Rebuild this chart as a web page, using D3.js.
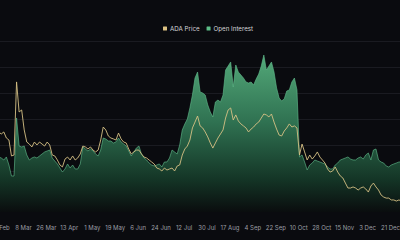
<!DOCTYPE html>
<html>
<head>
<meta charset="utf-8">
<script src="https://cdn.jsdelivr.net/npm/d3@7"></script>
<style>
    html, body { margin: 0; padding: 0; background: #0a0b0f; }
    svg { display: block; }
</style>
</head>
<body>
<svg width="400" height="240"></svg>
<script>
// ADA price vs open interest, one value every 2 days from 17 Feb 2025
var startDay = "2025-02-17";
var stepDays = 2;

var adaPrice = [
    0.780, 0.767, 0.780, 0.741, 0.728, 0.625, 0.631, 1.103, 0.909, 0.922,
    0.793, 0.715, 0.702, 0.683, 0.715, 0.696, 0.715, 0.702, 0.689, 0.715,
    0.696, 0.631, 0.625, 0.599, 0.567, 0.554, 0.605, 0.618, 0.599, 0.625,
    0.599, 0.612, 0.638, 0.689, 0.683, 0.670, 0.683, 0.663, 0.651, 0.663,
    0.728, 0.812, 0.793, 0.754, 0.741, 0.735, 0.728, 0.773, 0.735, 0.715,
    0.709, 0.670, 0.638, 0.651, 0.663, 0.663, 0.638, 0.618, 0.612, 0.599,
    0.586, 0.573, 0.547, 0.541, 0.528, 0.547, 0.534, 0.541, 0.547, 0.528,
    0.560, 0.567, 0.631, 0.670, 0.689, 0.728, 0.806, 0.844, 0.883, 0.819,
    0.806, 0.780, 0.748, 0.709, 0.676, 0.709, 0.741, 0.767, 0.793, 0.870,
    0.922, 0.935, 0.857, 0.890, 0.851, 0.832, 0.819, 0.806, 0.780, 0.799,
    0.812, 0.832, 0.844, 0.870, 0.896, 0.890, 0.877, 0.896, 0.844, 0.799,
    0.760, 0.754, 0.786, 0.806, 0.832, 0.812, 0.819, 0.806, 0.631, 0.702,
    0.651, 0.599, 0.631, 0.605, 0.625, 0.651, 0.618, 0.599, 0.579, 0.541,
    0.521, 0.528, 0.554, 0.521, 0.496, 0.483, 0.450, 0.418, 0.418, 0.425,
    0.418, 0.405, 0.418, 0.425, 0.412, 0.392, 0.431, 0.450, 0.425, 0.405,
    0.373, 0.360, 0.353, 0.353, 0.341, 0.341, 0.334, 0.341, 0.334
];

// open interest in billions of USD
var openInterest = [
    0.462, 0.450, 0.427, 0.462, 0.369, 0.242, 0.242, 0.912, 0.588, 0.577,
    0.588, 0.485, 0.427, 0.450, 0.462, 0.450, 0.473, 0.496, 0.519, 0.531,
    0.542, 0.450, 0.415, 0.381, 0.335, 0.288, 0.323, 0.381, 0.335, 0.369,
    0.323, 0.323, 0.381, 0.577, 0.554, 0.531, 0.554, 0.531, 0.496, 0.473,
    0.542, 0.681, 0.669, 0.646, 0.646, 0.623, 0.635, 0.681, 0.635, 0.612,
    0.588, 0.531, 0.473, 0.519, 0.565, 0.588, 0.496, 0.450, 0.427, 0.392,
    0.369, 0.358, 0.369, 0.381, 0.346, 0.404, 0.404, 0.450, 0.542, 0.519,
    0.496, 0.600, 0.773, 0.842, 0.900, 1.027, 1.177, 1.373, 1.442, 1.212,
    1.200, 1.177, 1.062, 0.981, 0.923, 1.096, 1.119, 1.096, 1.177, 1.465,
    1.511, 1.558, 1.269, 1.523, 1.442, 1.408, 1.373, 1.327, 1.315, 1.327,
    1.292, 1.361, 1.419, 1.511, 1.638, 1.465, 1.511, 1.558, 1.442, 1.258,
    1.142, 1.108, 1.131, 1.223, 1.235, 1.327, 1.373, 1.235, 0.462, 0.485,
    0.404, 0.312, 0.369, 0.392, 0.427, 0.415, 0.404, 0.392, 0.381, 0.346,
    0.323, 0.323, 0.369, 0.392, 0.427, 0.438, 0.450, 0.462, 0.438, 0.427,
    0.427, 0.450, 0.462, 0.438, 0.485, 0.508, 0.427, 0.542, 0.554, 0.427,
    0.404, 0.392, 0.358, 0.346, 0.369, 0.381, 0.392, 0.404, 0.404
];

var tickDays = [
    "2025-02-18", "2025-03-08", "2025-03-26", "2025-04-13", "2025-05-01",
    "2025-05-19", "2025-06-06", "2025-06-24", "2025-07-12", "2025-07-30",
    "2025-08-17", "2025-09-04", "2025-09-22", "2025-10-10", "2025-10-28",
    "2025-11-15", "2025-12-03", "2025-12-21"
];

var oiGrid = [0, 0.3, 0.6, 0.9, 1.2, 1.5, 1.8];

var legendItems = [
    { label: "ADA Price", color: "#dcc182" },
    { label: "Open Interest", color: "#5cbd87" }
];

var parseDay = d3.utcParse("%Y-%m-%d");
var fmtDay = d3.utcFormat("%-d %b");

var width = 400, height = 240;
var plotBottom = 212;

var rows = adaPrice.map(function (p, i) {
    return {
        date: d3.utcDay.offset(parseDay(startDay), i * stepDays),
        price: p,
        oi: openInterest[i]
    };
});

var svg = d3.select("svg");

var x = d3.scaleUtc()
    .domain([parseDay("2025-02-18"), parseDay("2025-12-21")])
    .range([0, 390]);

var yOI = d3.scaleLinear().domain([0, 1.8]).range([197, 41]);
var yPrice = d3.scaleLinear().domain([0.3, 1.1]).range([206.3, 82.4]);

// gradient for the open interest area
var grad = svg.append("defs").append("linearGradient")
    .attr("id", "oiFill")
    .attr("gradientUnits", "userSpaceOnUse")
    .attr("x1", 0).attr("x2", 0)
    .attr("y1", yOI(1.7)).attr("y2", plotBottom);
grad.append("stop").attr("offset", 0).attr("stop-color", "#56ad7c");
grad.append("stop").attr("offset", 0.45).attr("stop-color", "#2f7151");
grad.append("stop").attr("offset", 0.8).attr("stop-color", "#143526");
grad.append("stop").attr("offset", 1).attr("stop-color", "#0a0d0e");

// faint gridlines
svg.append("g").selectAll("line").data(oiGrid).enter().append("line")
    .attr("x1", 0).attr("x2", width)
    .attr("y1", function (d) { return yOI(d) + 0.5; })
    .attr("y2", function (d) { return yOI(d) + 0.5; })
    .attr("stroke", "#1a1b21")
    .attr("stroke-width", 1);

var area = d3.area()
    .x(function (d) { return x(d.date); })
    .y0(plotBottom)
    .y1(function (d) { return yOI(d.oi); });

var oiLine = d3.line()
    .x(function (d) { return x(d.date); })
    .y(function (d) { return yOI(d.oi); });

var priceLine = d3.line()
    .x(function (d) { return x(d.date); })
    .y(function (d) { return yPrice(d.price); });

svg.append("path").datum(rows)
    .attr("d", area)
    .attr("fill", "url(#oiFill)");

svg.append("path").datum(rows)
    .attr("d", oiLine)
    .attr("fill", "none")
    .attr("stroke", "#5fb889")
    .attr("stroke-opacity", 0.8)
    .attr("stroke-width", 0.8);

svg.append("path").datum(rows)
    .attr("d", priceLine)
    .attr("fill", "none")
    .attr("stroke", "#d6c184")
    .attr("stroke-width", 0.9);

// x axis, labels only
var xAxis = d3.axisBottom(x)
    .tickValues(tickDays.map(parseDay))
    .tickFormat(fmtDay)
    .tickSize(0)
    .tickPadding(0);

var gx = svg.append("g")
    .attr("transform", "translate(0,226)")
    .call(xAxis);
gx.select(".domain").remove();
gx.selectAll("text")
    .attr("fill", "#9c9ea4")
    .attr("font-family", "Inter, 'Noto Sans', sans-serif")
    .attr("font-size", "6px");

// legend
var legend = svg.append("g").attr("transform", "translate(163,26)");
var lx = 0;
legendItems.forEach(function (item) {
    legend.append("rect")
        .attr("x", lx).attr("y", 0.5)
        .attr("width", 4).attr("height", 4)
        .attr("rx", 0.5)
        .attr("fill", item.color);
    var t = legend.append("text")
        .attr("x", lx + 7).attr("y", 2.5)
        .attr("dy", "0.35em")
        .attr("fill", "#d4d4d6")
        .attr("font-family", "Inter, 'Noto Sans', sans-serif")
        .attr("font-size", "6.2px")
        .text(item.label);
    lx += 7 + t.node().getComputedTextLength() + 7;
});
</script>
</body>
</html>
